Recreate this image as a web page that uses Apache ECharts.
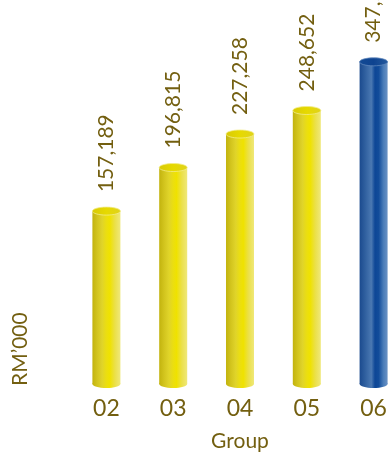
<!DOCTYPE html>
<html>
<head>
<meta charset="utf-8">
<script src="https://cdn.jsdelivr.net/npm/echarts@6/dist/echarts.min.js"></script>
<style>
  html, body { margin: 0; padding: 0; background: #ffffff; }
  #chart { width: 391px; height: 453px; }
</style>
</head>
<body>
<div id="chart"></div>
<script>
// Group revenue by year (RM'000)
const categories = ['02', '03', '04', '05', '06'];
const groupValues = [157189, 196815, 227258, 248652];   // earlier years
const latestValue = 347538;                              // highlighted year
const latestIndex = 4;

const TEXT = '#735f10';
const FONT = 'Lato, "Open Sans", sans-serif';

const yellowBody = new echarts.graphic.LinearGradient(0, 0, 1, 0, [
  { offset: 0.00, color: '#c2b30e' },
  { offset: 0.18, color: '#d3c51e' },
  { offset: 0.35, color: '#e0d42a' },
  { offset: 0.50, color: '#ebde10' },
  { offset: 0.62, color: '#efe200' },
  { offset: 0.80, color: '#ebe048' },
  { offset: 1.00, color: '#efe87a' }
]);
const yellowTop = new echarts.graphic.LinearGradient(0, 0, 1, 0, [
  { offset: 0, color: '#d8ca06' },
  { offset: 0.5, color: '#e6d900' },
  { offset: 1, color: '#e0d31c' }
]);
const blueBody = new echarts.graphic.LinearGradient(0, 0, 1, 0, [
  { offset: 0.00, color: '#1b4a8e' },
  { offset: 0.20, color: '#30609f' },
  { offset: 0.42, color: '#4a78b2' },
  { offset: 0.55, color: '#0d4696' },
  { offset: 0.68, color: '#124c9a' },
  { offset: 0.85, color: '#4a7cb8' },
  { offset: 1.00, color: '#6a92c4' }
]);
const blueTop = new echarts.graphic.LinearGradient(0, 0, 1, 0, [
  { offset: 0, color: '#134a94' },
  { offset: 0.5, color: '#0e4390' },
  { offset: 1, color: '#255a9e' }
]);

function fmt(v) {
  return String(v).replace(/\B(?=(\d{3})+(?!\d))/g, ',');
}

// Cylinder: body rectangle + bottom cap + top cap + rotated value label
function cylinder(bodyFill, topFill, rimColor) {
  return function (params, api) {
    const idx = api.value(0);
    const val = api.value(1);
    const top = api.coord([idx, val]);
    const base = api.coord([idx, 0]);
    const w = 28;
    const eh = 8;
    const x = top[0] - w / 2;
    return {
      type: 'group',
      children: [
        { type: 'ellipse', shape: { cx: base[0], cy: base[1], rx: w / 2, ry: eh / 2 },
          style: { fill: bodyFill } },
        { type: 'rect', shape: { x: x, y: top[1], width: w, height: base[1] - top[1] },
          style: { fill: bodyFill } },
        { type: 'ellipse', shape: { cx: top[0], cy: top[1], rx: w / 2, ry: eh / 2 },
          style: { fill: topFill, stroke: rimColor, lineWidth: 0.8 } },
        { type: 'text', x: top[0], y: top[1] - eh / 2 - 15, rotation: Math.PI / 2,
          style: { text: fmt(val), fill: TEXT, font: '21px ' + FONT,
                   align: 'left', verticalAlign: 'middle' } }
      ]
    };
  };
}

const chart = echarts.init(document.getElementById('chart'), null, { renderer: 'canvas' });

chart.setOption({
  animation: false,
  backgroundColor: '#ffffff',
  grid: { left: 73, width: 334, top: 54, bottom: 69, containLabel: false, outerBoundsMode: 'none' },
  xAxis: {
    type: 'category',
    data: categories,
    axisLine: { show: false },
    axisTick: { show: false },
    axisLabel: { color: TEXT, fontSize: 23, fontFamily: FONT, margin: 13 },
    name: 'Group',
    nameLocation: 'middle',
    nameGap: 47,
    nameTextStyle: { color: TEXT, fontSize: 21, fontFamily: FONT }
  },
  yAxis: [
    { type: 'value', min: 0, max: 300000, show: false },
    { type: 'value', min: 0, max: 356000, show: false }
  ],
  graphic: [{
    type: 'text',
    x: 20, y: 386,
    rotation: Math.PI / 2,
    style: { text: 'RM’000', fill: TEXT, font: '21px ' + FONT,
             align: 'left', verticalAlign: 'middle' }
  }],
  series: [
    {
      type: 'custom',
      yAxisIndex: 0,
      renderItem: cylinder(yellowBody, yellowTop, '#f3ec8a'),
      encode: { x: 0, y: 1 },
      data: groupValues.map((v, i) => [i, v]),
      clip: false
    },
    {
      type: 'custom',
      yAxisIndex: 1,
      renderItem: cylinder(blueBody, blueTop, '#5f86bb'),
      encode: { x: 0, y: 1 },
      data: [[latestIndex, latestValue]],
      clip: false
    }
  ]
});
</script>
</body>
</html>
